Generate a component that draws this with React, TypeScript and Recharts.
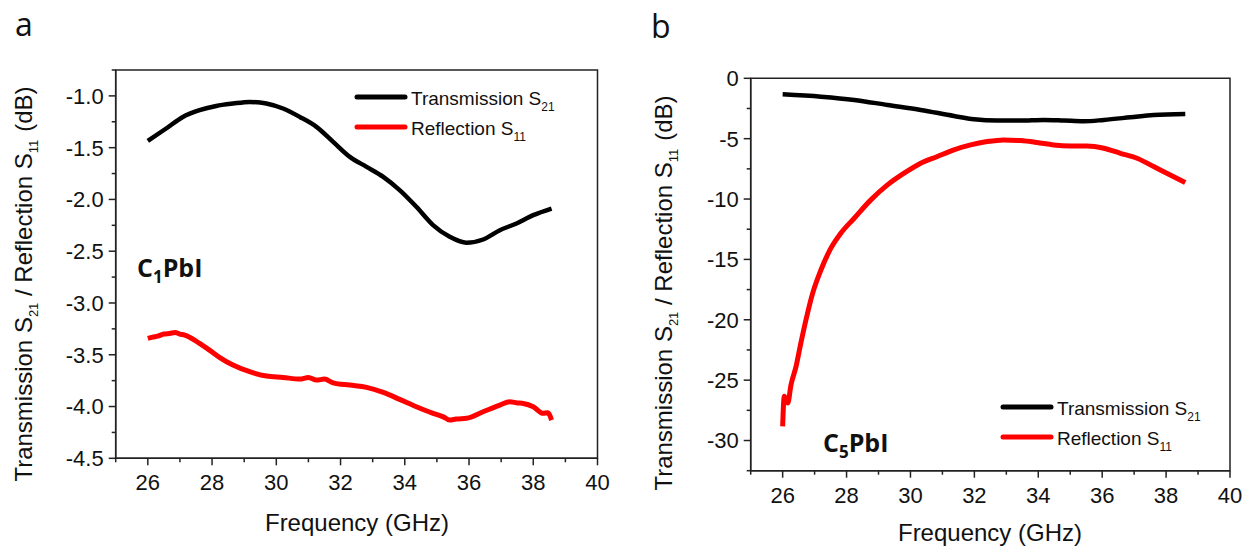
import React from 'react';
import { LineChart, Line, XAxis, YAxis, ReferenceArea } from 'recharts';

// shared frequency axis (GHz)
const xTicks = [25, 26, 27, 28, 29, 30, 31, 32, 33, 34, 35, 36, 37, 38, 39, 40];
const xMajor = [26, 28, 30, 32, 34, 36, 38, 40];

// panel a (C1PbI)
const yTicksA = [-4.5, -4.25, -4, -3.75, -3.5, -3.25, -3, -2.75, -2.5, -2.25, -2, -1.75, -1.5, -1.25, -1, -0.75];
const yMajorA = [-4.5, -4, -3.5, -3, -2.5, -2, -1.5, -1];

const freqTransA = [26.0, 26.57, 27.09, 27.61, 28.13, 28.65, 29.17, 29.69, 30.21, 30.73, 31.25, 31.77, 32.29, 32.81, 33.33, 33.84, 34.36, 34.88, 35.4, 35.92, 36.44, 36.96, 37.48, 38.0, 38.57];
const transA = [-1.434, -1.315, -1.203, -1.138, -1.097, -1.074, -1.058, -1.074, -1.122, -1.203, -1.299, -1.444, -1.589, -1.685, -1.782, -1.91, -2.071, -2.248, -2.361, -2.419, -2.387, -2.297, -2.232, -2.152, -2.088];

const freqReflA = [26.0, 26.15, 26.31, 26.5, 26.68, 26.85, 26.99, 27.15, 27.3, 27.61, 27.92, 28.23, 28.65, 29.17, 29.69, 30.21, 30.73, 31.0, 31.25, 31.5, 31.77, 32.29, 32.81, 33.33, 33.84, 34.36, 34.88, 35.2, 35.4, 35.6, 35.92, 36.44, 36.96, 37.27, 37.5, 37.69, 38.0, 38.31, 38.45, 38.57];
const reflA = [-3.342, -3.33, -3.32, -3.3, -3.294, -3.285, -3.3, -3.31, -3.33, -3.39, -3.455, -3.525, -3.6, -3.664, -3.706, -3.719, -3.735, -3.72, -3.745, -3.735, -3.771, -3.793, -3.815, -3.864, -3.931, -4.002, -4.066, -4.1, -4.131, -4.12, -4.114, -4.05, -3.986, -3.954, -3.965, -3.97, -4.002, -4.066, -4.06, -4.131];

// panel b (C5PbI)
const yTicksB = [-32.5, -30, -27.5, -25, -22.5, -20, -17.5, -15, -12.5, -10, -7.5, -5, -2.5, 0];
const yMajorB = [-30, -25, -20, -15, -10, -5, 0];

const freqTransB = [26.0, 27.2, 28.24, 29.28, 30.32, 31.36, 31.99, 32.71, 33.44, 34.17, 34.8, 35.42, 36.05, 36.88, 37.61, 38.6];
const transB = [-1.32, -1.52, -1.79, -2.21, -2.62, -3.12, -3.39, -3.5, -3.5, -3.45, -3.5, -3.56, -3.45, -3.23, -3.03, -2.95];

const freqReflB = [26.0, 26.05, 26.16, 26.26, 26.42, 26.57, 26.73, 26.94, 27.2, 27.51, 27.82, 28.24, 28.76, 29.28, 29.8, 30.32, 30.84, 31.36, 31.88, 32.4, 32.92, 33.44, 33.96, 34.48, 35.0, 35.52, 36.05, 36.57, 37.09, 37.61, 38.13, 38.6];
const reflB = [-28.83, -26.34, -26.9, -25.4, -23.86, -21.93, -20.0, -17.79, -15.86, -14.07, -12.83, -11.59, -10.07, -8.83, -7.86, -7.03, -6.48, -5.93, -5.52, -5.24, -5.1, -5.16, -5.32, -5.52, -5.6, -5.6, -5.79, -6.21, -6.62, -7.31, -8.0, -8.63];

const toPoints = (fs: number[], vs: number[]) => fs.map((f, i) => ({ f, v: vs[i] }));

const SANS = '"Liberation Sans", Arial, sans-serif';
const BOLD = '"Open Sans", sans-serif';
const AXIS = '#222';

function makeXTick(majors: number[]) {
  return (props: any) => {
    const { x, y, payload } = props;
    const major = majors.includes(payload.value);
    return (
      <g>
        <line x1={x} x2={x} y1={y} y2={y + (major ? 7 : 4)} stroke={AXIS} strokeWidth={1.5} />
        {major && (
          <text x={x} y={y + 32} textAnchor="middle" fontSize={22} fontFamily={SANS} fill="#111">
            {payload.value}
          </text>
        )}
      </g>
    );
  };
}

function makeYTick(majors: number[], digits: number) {
  return (props: any) => {
    const { x, y, payload } = props;
    const major = majors.some((m) => Math.abs(m - payload.value) < 1e-6);
    return (
      <g>
        <line x1={x} x2={x - (major ? 7 : 4)} y1={y} y2={y} stroke={AXIS} strokeWidth={1.5} />
        {major && (
          <text x={x - 12} y={y} dy="0.36em" textAnchor="end" fontSize={22} fontFamily={SANS} fill="#111">
            {payload.value.toFixed(digits)}
          </text>
        )}
      </g>
    );
  };
}

interface PanelProps {
  width: number;
  height: number;
  margin: { top: number; right: number; bottom: number; left: number };
  yWidth: number;
  xHeight: number;
  yDomain: [number, number];
  yTicks: number[];
  yMajor: number[];
  digits: number;
  trans: { f: number; v: number }[];
  refl: { f: number; v: number }[];
}

function Panel(p: PanelProps) {
  return (
    <LineChart width={p.width} height={p.height} margin={p.margin}>
      <XAxis
        type="number"
        dataKey="f"
        domain={[25, 40]}
        ticks={xTicks}
        interval={0}
        allowDataOverflow
        height={p.xHeight}
        tickSize={0}
        tickMargin={0}
        tickLine={false}
        axisLine={{ stroke: AXIS, strokeWidth: 1.5 }}
        tick={makeXTick(xMajor)}
      />
      <YAxis
        type="number"
        dataKey="v"
        domain={p.yDomain}
        ticks={p.yTicks}
        interval={0}
        allowDataOverflow
        width={p.yWidth}
        tickSize={0}
        tickMargin={0}
        tickLine={false}
        axisLine={{ stroke: AXIS, strokeWidth: 1.5 }}
        tick={makeYTick(p.yMajor, p.digits)}
      />
      <ReferenceArea
        x1={25}
        x2={40}
        y1={p.yDomain[0]}
        y2={p.yDomain[1]}
        fill="none"
        fillOpacity={0}
        stroke={AXIS}
        strokeWidth={1.5}
      />
      <Line
        data={p.refl}
        dataKey="v"
        type="monotone"
        stroke="#ff0000"
        strokeWidth={5}
        dot={false}
        isAnimationActive={false}
      />
      <Line
        data={p.trans}
        dataKey="v"
        type="monotone"
        stroke="#000"
        strokeWidth={4.5}
        dot={false}
        isAnimationActive={false}
      />
    </LineChart>
  );
}

function YTitle({ x, y }: { x: number; y: number }) {
  return (
    <text
      transform={`translate(${x},${y}) rotate(-90)`}
      textAnchor="middle"
      fontSize={24}
      fontFamily={SANS}
      fill="#111"
    >
      Transmission S
      <tspan fontSize={13} dy={6}>21</tspan>
      <tspan dy={-6}> / Reflection S</tspan>
      <tspan fontSize={13} dy={6}>11</tspan>
      <tspan dy={-6} dx={8}>(dB)</tspan>
    </text>
  );
}

function LegendBox({ x, y }: { x: number; y: number }) {
  return (
    <g fontFamily={SANS} fontSize={19} fill="#111">
      <line x1={x} x2={x + 48} y1={y} y2={y} stroke="#000" strokeWidth={5} strokeLinecap="round" />
      <text x={x + 54} y={y + 8}>
        Transmission S<tspan fontSize={12} dy={6}>21</tspan>
      </text>
      <line x1={x} x2={x + 48} y1={y + 30} y2={y + 30} stroke="#ff0000" strokeWidth={5} strokeLinecap="round" />
      <text x={x + 54} y={y + 38}>
        Reflection S<tspan fontSize={12} dy={6}>11</tspan>
      </text>
    </g>
  );
}

function Sample({ x, y, n }: { x: number; y: number; n: string }) {
  return (
    <text x={x} y={y} fontFamily={BOLD} fontWeight={700} fontSize={25} fill="#111">
      C<tspan fontSize={17} dy={6}>{n}</tspan>
      <tspan dy={-6}>PbI</tspan>
    </text>
  );
}

export default function App() {
  return (
    <div style={{ position: 'absolute', left: 0, top: 0, width: 1254, height: 549, background: '#fff' }}>
      <div style={{ position: 'absolute', left: 0, top: 0 }}>
        <Panel
          width={620}
          height={549}
          margin={{ top: 70, right: 22.5, bottom: 0, left: 0 }}
          yWidth={115.7}
          xHeight={90.7}
          yDomain={[-4.5, -0.75]}
          yTicks={yTicksA}
          yMajor={yMajorA}
          digits={1}
          trans={toPoints(freqTransA, transA)}
          refl={toPoints(freqReflA, reflA)}
        />
      </div>
      <div style={{ position: 'absolute', left: 620, top: 0 }}>
        <Panel
          width={634}
          height={549}
          margin={{ top: 78.3, right: 24, bottom: 0, left: 0 }}
          yWidth={130.7}
          xHeight={78.3}
          yDomain={[-32.5, 0]}
          yTicks={yTicksB}
          yMajor={yMajorB}
          digits={0}
          trans={toPoints(freqTransB, transB)}
          refl={toPoints(freqReflB, reflB)}
        />
      </div>
      <svg
        width={1254}
        height={549}
        style={{ position: 'absolute', left: 0, top: 0, pointerEvents: 'none' }}
      >
        <text x={15} y={36} fontFamily={BOLD} fontSize={32} fill="#111">a</text>
        <text x={651} y={38} fontFamily={BOLD} fontSize={32} fill="#111">b</text>
        <YTitle x={32} y={284} />
        <YTitle x={672} y={293} />
        <text x={357} y={531} textAnchor="middle" fontSize={24} fontFamily={SANS} fill="#111">
          Frequency (GHz)
        </text>
        <text x={990} y={541} textAnchor="middle" fontSize={24} fontFamily={SANS} fill="#111">
          Frequency (GHz)
        </text>
        <LegendBox x={357} y={97} />
        <LegendBox x={1003} y={407} />
        <Sample x={137} y={277} n="1" />
        <Sample x={823} y={452} n="5" />
      </svg>
    </div>
  );
}
